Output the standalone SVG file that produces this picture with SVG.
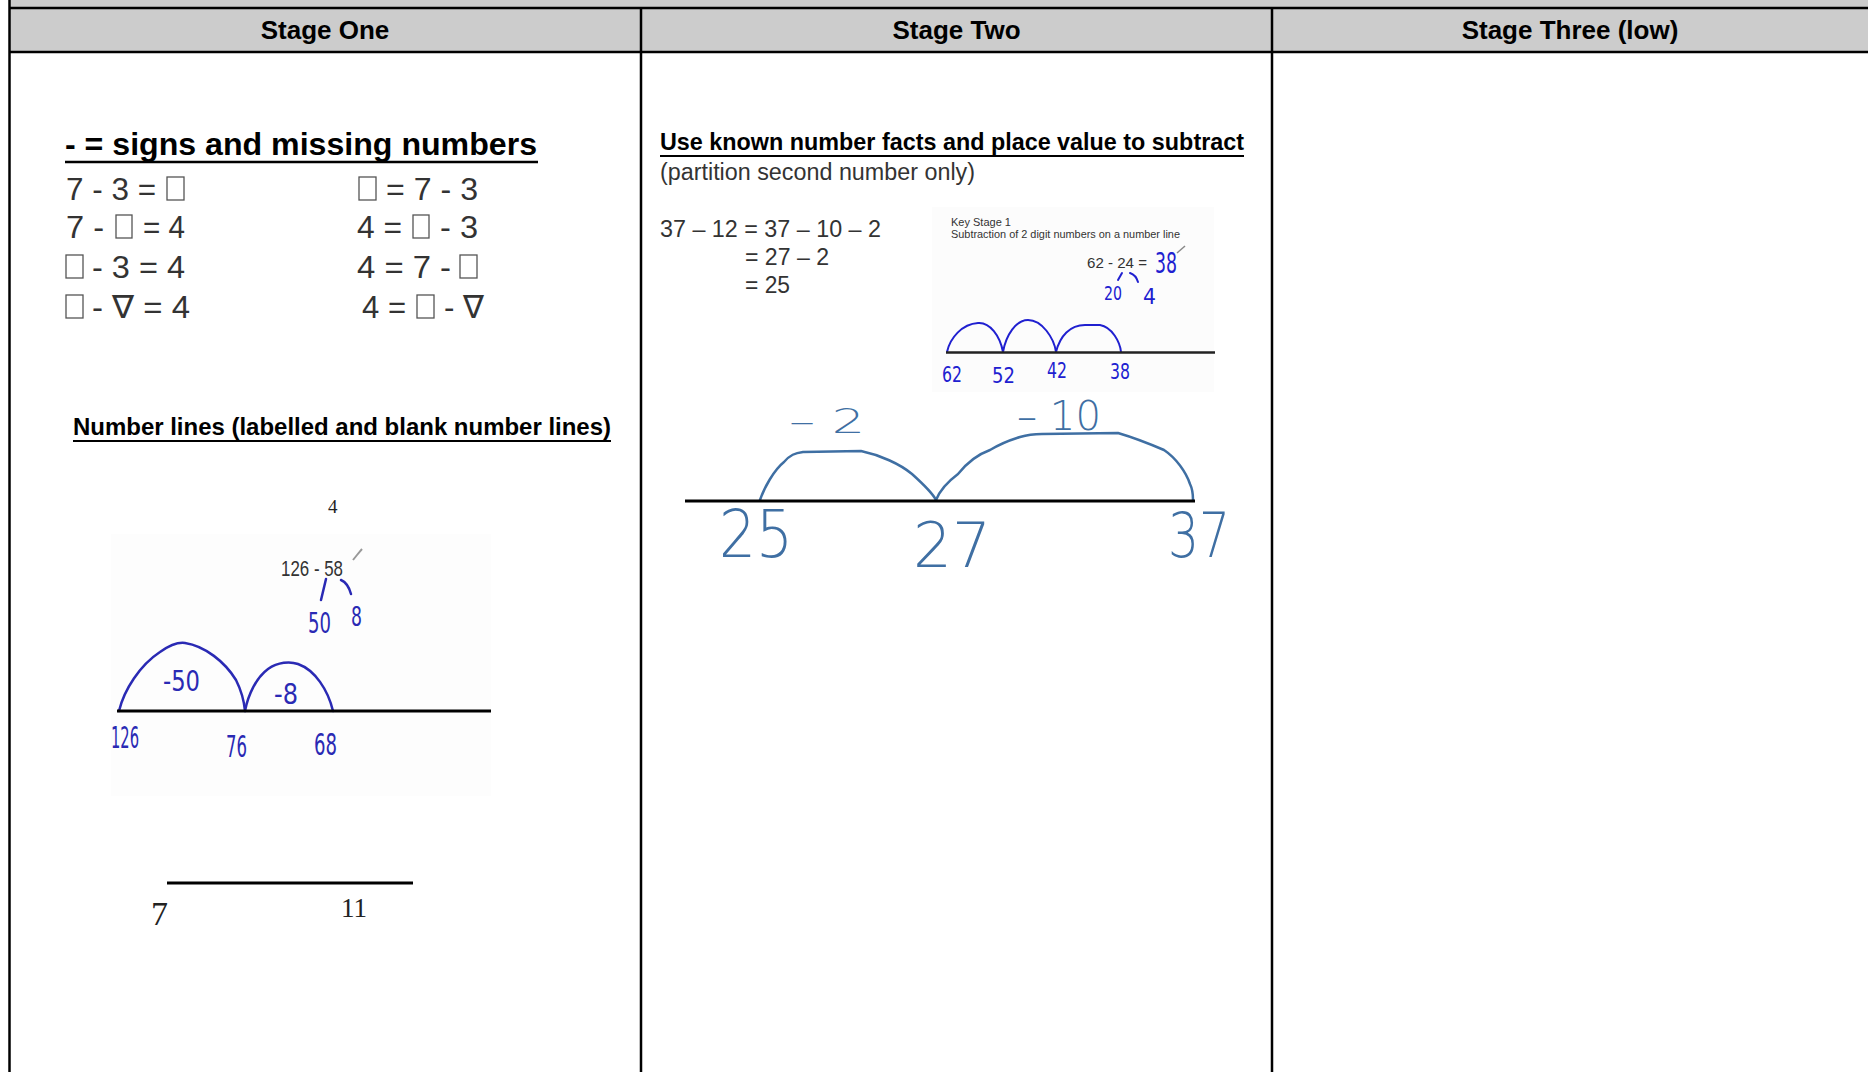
<svg xmlns="http://www.w3.org/2000/svg" width="1868" height="1072" viewBox="0 0 1868 1072">
<defs>
<style>
.hdr{font-family:"Liberation Sans",Arial,sans-serif;font-weight:bold;font-size:26px;fill:#000;text-anchor:middle}
.ttl{font-family:"Liberation Sans",Arial,sans-serif;font-weight:bold;fill:#000}
.eq{font-family:"Liberation Sans","DejaVu Sans",Arial,sans-serif;font-size:32px;fill:#333}
.txt{font-family:"Liberation Sans",Arial,sans-serif;fill:#333}
.box{fill:none;stroke:#555;stroke-width:1.3}
.grid{stroke:#000;stroke-width:2.5;fill:none}
.nl{stroke:#000;stroke-width:3;fill:none}
.hw1{font-family:"DejaVu Sans",sans-serif;font-stretch:condensed;fill:#2a2ab4}
.hw2{font-family:"DejaVu Sans",sans-serif;font-stretch:condensed;fill:#2020d0}
.hw3{font-family:"DejaVu Sans",sans-serif;font-weight:200;fill:#3f6fa3}
.arc1{fill:none;stroke:#2a2ab4;stroke-width:2.5;stroke-linecap:round;stroke-linejoin:round}
.arc2{fill:none;stroke:#2020d0;stroke-width:2;stroke-linecap:round;stroke-linejoin:round}
.arc3{fill:none;stroke:#3f6fa3;stroke-width:2.5;stroke-linecap:round;stroke-linejoin:round}
.tm{font-family:"Liberation Serif","Times New Roman",serif;fill:#222}
</style>
</defs>
<rect width="1868" height="1072" fill="#fff"/>
<g id="table">
<rect x="9" y="0" width="1859" height="52" fill="#cccccc"/>
<line class="grid" x1="9" y1="8" x2="1868" y2="8"/>
<line class="grid" x1="9" y1="52" x2="1868" y2="52"/>
<line class="grid" x1="9.5" y1="0" x2="9.5" y2="1072"/>
<line class="grid" x1="641" y1="8" x2="641" y2="1072"/>
<line class="grid" x1="1272" y1="8" x2="1272" y2="1072"/>
</g>
<g id="headers">
<text class="hdr" x="325" y="39">Stage One</text>
<text class="hdr" x="956.5" y="39">Stage Two</text>
<text class="hdr" x="1570" y="39">Stage Three (low)</text>
</g>
<g id="stage-one-equations">
<text class="ttl" x="65" y="155" font-size="32" textLength="472" lengthAdjust="spacingAndGlyphs">- = signs and missing numbers</text>
<line x1="65" y1="162" x2="538" y2="162" stroke="#000" stroke-width="2.5"/>
<text class="eq" x="66" y="200" textLength="90" lengthAdjust="spacingAndGlyphs">7 - 3 =</text>
<rect class="box" x="167" y="177" width="17" height="23"/>
<rect class="box" x="359" y="177" width="17" height="23"/>
<text class="eq" x="386" y="200" textLength="92" lengthAdjust="spacingAndGlyphs">= 7 - 3</text>
<text class="eq" x="66" y="238" textLength="38" lengthAdjust="spacingAndGlyphs">7 -</text>
<rect class="box" x="116" y="215" width="16" height="23"/>
<text class="eq" x="143" y="238" textLength="42" lengthAdjust="spacingAndGlyphs">= 4</text>
<text class="eq" x="357" y="238" textLength="45" lengthAdjust="spacingAndGlyphs">4 =</text>
<rect class="box" x="413" y="215" width="16" height="23"/>
<text class="eq" x="440" y="238" textLength="38" lengthAdjust="spacingAndGlyphs">- 3</text>
<rect class="box" x="66" y="255" width="17" height="23"/>
<text class="eq" x="92" y="278" textLength="93" lengthAdjust="spacingAndGlyphs">- 3 = 4</text>
<text class="eq" x="357" y="278" textLength="94" lengthAdjust="spacingAndGlyphs">4 = 7 -</text>
<rect class="box" x="460" y="255" width="17" height="23"/>
<rect class="box" x="66" y="295" width="17" height="23"/>
<text class="eq" x="92" y="318" textLength="98" lengthAdjust="spacingAndGlyphs">- ∇ = 4</text>
<text class="eq" x="362" y="318" textLength="44" lengthAdjust="spacingAndGlyphs">4 =</text>
<rect class="box" x="417" y="295" width="17" height="23"/>
<text class="eq" x="444" y="318" textLength="40" lengthAdjust="spacingAndGlyphs">- ∇</text>
</g>
<g id="stage-one-number-lines">
<text class="ttl" x="73" y="435" font-size="24" textLength="538" lengthAdjust="spacingAndGlyphs">Number lines (labelled and blank number lines)</text>
<line x1="73" y1="441" x2="611" y2="441" stroke="#000" stroke-width="2"/>
<rect x="111" y="534" width="380" height="262" fill="#fdfdfd"/>
<text class="tm" x="328" y="513" font-size="19">4</text>
<text class="txt" x="281" y="576" font-size="22" fill="#555" textLength="62" lengthAdjust="spacingAndGlyphs">126 - 58</text>
<path d="M353,560 L357,555 L362,549" fill="none" stroke="#999" stroke-width="2"/>
<path d="M326,579 L321,600 M341,580 Q348,583 351,594" class="arc1"/>
<text class="hw1" x="308" y="633" font-size="28" textLength="23" lengthAdjust="spacingAndGlyphs">50</text>
<text class="hw1" x="351" y="626" font-size="26" textLength="11" lengthAdjust="spacingAndGlyphs">8</text>
<path class="arc1" d="M119,711 C124,690 140,665 160,652 C170,645 178,642 185,643 C205,646 225,662 236,680 C241,690 244,700 245,711"/>
<path class="arc1" d="M245,711 C248,695 256,678 268,669 C278,662 290,661 298,664 C315,670 328,690 333,711"/>
<line class="nl" x1="117" y1="711" x2="491" y2="711"/>
<text class="hw1" x="163" y="691" font-size="28" textLength="37" lengthAdjust="spacingAndGlyphs">-50</text>
<text class="hw1" x="274" y="704" font-size="28" textLength="24" lengthAdjust="spacingAndGlyphs">-8</text>
<text class="hw1" x="111" y="748" font-size="30" textLength="28" lengthAdjust="spacingAndGlyphs">126</text>
<text class="hw1" x="226" y="757" font-size="30" textLength="21" lengthAdjust="spacingAndGlyphs">76</text>
<text class="hw1" x="314" y="755" font-size="30" textLength="23" lengthAdjust="spacingAndGlyphs">68</text>
<line class="nl" x1="167" y1="883" x2="413" y2="883"/>
<text class="tm" x="151" y="925" font-size="34">7</text>
<text class="tm" x="341" y="917" font-size="27">11</text>
</g>
<g id="stage-two-facts">
<text class="ttl" x="660" y="150" font-size="24" textLength="584" lengthAdjust="spacingAndGlyphs">Use known number facts and place value to subtract</text>
<line x1="660" y1="156" x2="1244" y2="156" stroke="#000" stroke-width="2"/>
<text class="txt" x="660" y="180" font-size="23.5" textLength="315" lengthAdjust="spacingAndGlyphs">(partition second number only)</text>
<text class="txt" x="660" y="237" font-size="24" textLength="221" lengthAdjust="spacingAndGlyphs">37 – 12 = 37 – 10 – 2</text>
<text class="txt" x="745" y="265" font-size="24" textLength="84" lengthAdjust="spacingAndGlyphs">= 27 – 2</text>
<text class="txt" x="745" y="293" font-size="24" textLength="45" lengthAdjust="spacingAndGlyphs">= 25</text>
</g>
<g id="stage-two-example">
<rect x="932" y="207" width="282" height="185" fill="#fcfcfc"/>
<text class="txt" x="951" y="226" font-size="11" fill="#444">Key Stage 1</text>
<text class="txt" x="951" y="238" font-size="10.5" fill="#444" textLength="229" lengthAdjust="spacingAndGlyphs">Subtraction of 2 digit numbers on a number line</text>
<text class="txt" x="1087" y="268" font-size="15" textLength="60" lengthAdjust="spacingAndGlyphs">62 - 24 =</text>
<text class="hw2" x="1155" y="273" font-size="28" textLength="22" lengthAdjust="spacingAndGlyphs">38</text>
<path d="M1177,253 L1185,246" fill="none" stroke="#888" stroke-width="1.5"/>
<path class="arc2" d="M1122,273 L1118,280 M1130,273 Q1136,275 1138,282"/>
<text class="hw2" x="1104" y="300" font-size="20" textLength="18" lengthAdjust="spacingAndGlyphs">20</text>
<text class="hw2" x="1143" y="304" font-size="21" textLength="13" lengthAdjust="spacingAndGlyphs">4</text>
<path class="arc2" d="M947,352 C950,338 962,324 978,323 C990,322 1000,336 1003,352"/>
<path class="arc2" d="M1003,352 C1006,335 1016,320 1028,320 C1042,320 1054,338 1056,352"/>
<path class="arc2" d="M1056,352 C1060,336 1070,325 1085,325 L1100,325 C1112,327 1120,342 1121,352"/>
<line x1="946" y1="352.6" x2="1215" y2="352.6" stroke="#222" stroke-width="2.5"/>
<text class="hw2" x="942" y="382" font-size="21" textLength="20" lengthAdjust="spacingAndGlyphs">62</text>
<text class="hw2" x="992" y="383" font-size="21" textLength="23" lengthAdjust="spacingAndGlyphs">52</text>
<text class="hw2" x="1047" y="378" font-size="21" textLength="20" lengthAdjust="spacingAndGlyphs">42</text>
<text class="hw2" x="1110" y="379" font-size="21" textLength="20" lengthAdjust="spacingAndGlyphs">38</text>
</g>
<g id="stage-two-number-line">
<path class="arc3" d="M760,500 C764,488 774,470 784,462 C790,455 795,453 803,452 L861,451 C880,455 900,464 912,474 C922,483 932,492 936,500"/>
<path class="arc3" d="M936,500 C940,490 950,480 958,474 C966,464 976,455 990,450 C1000,444 1010,440 1020,437 C1030,434 1036,434 1042,434 L1118,433 C1135,438 1150,444 1164,450 C1176,458 1186,472 1190,484 C1193,490 1193,496 1193,500"/>
<line class="nl" x1="685" y1="501" x2="1195" y2="501"/>
<text class="hw3" x="789" y="433" font-size="34" textLength="76" lengthAdjust="spacingAndGlyphs">– 2</text>
<text class="hw3" x="1017" y="430" font-size="40" textLength="84" lengthAdjust="spacingAndGlyphs">– 10</text>
<text class="hw3" x="719" y="557" font-size="66" textLength="74" lengthAdjust="spacingAndGlyphs">25</text>
<text class="hw3" x="913" y="567" font-size="62" textLength="78" lengthAdjust="spacingAndGlyphs">27</text>
<text class="hw3" x="1168" y="557" font-size="62" textLength="62" lengthAdjust="spacingAndGlyphs">37</text>
</g>
</svg>
